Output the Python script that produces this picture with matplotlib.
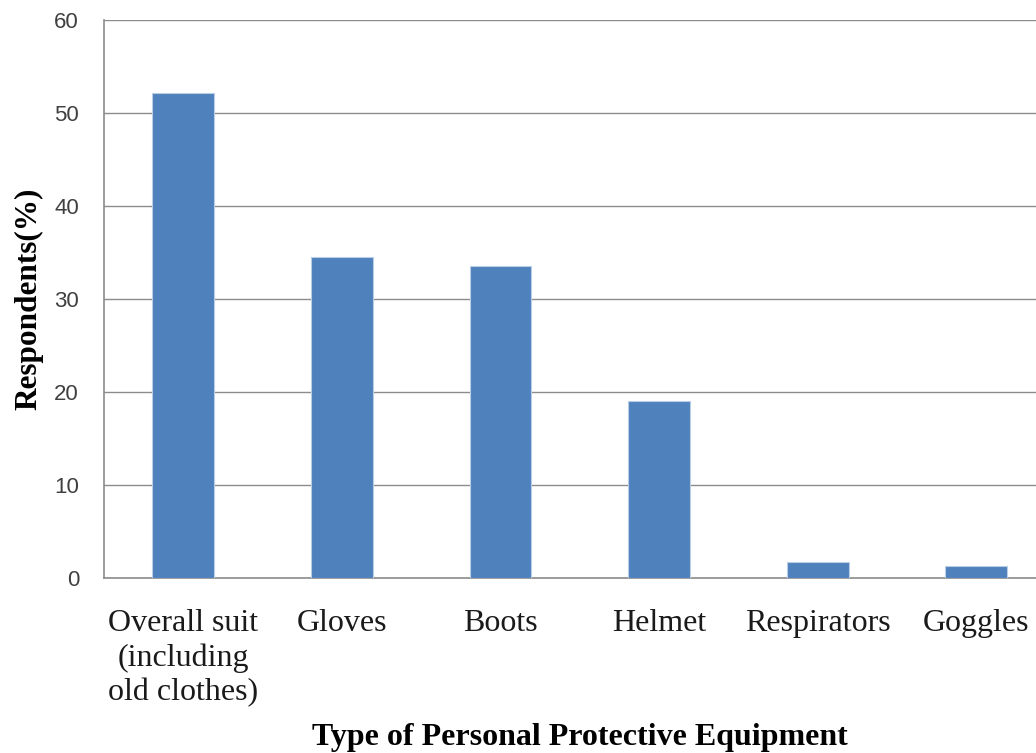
import matplotlib.pyplot as plt

# PPE usage among respondents
equipment = ['Overall suit\n(including\nold clothes)', 'Gloves', 'Boots',
             'Helmet', 'Respirators', 'Goggles']
respondents_pct = [52.1, 34.5, 33.6, 19.0, 1.7, 1.3]

fig = plt.figure(figsize=(10.36, 7.53), dpi=100)
ax = fig.add_axes([0.1004, 0.2324, 0.9185, 0.741])

x = range(len(equipment))
ax.bar(x, respondents_pct, width=0.39, color='#4f81bd',
       edgecolor='#b9cde5', linewidth=0.8, zorder=3)

ax.set_xlim(-0.5, len(equipment) - 0.5)
ax.set_ylim(0, 60)
ax.set_yticks(range(0, 61, 10))
ax.yaxis.grid(True, color='#8c8c8c', linewidth=1.0, zorder=0)

for side in ['top', 'right']:
    ax.spines[side].set_visible(False)
for side in ['left', 'bottom']:
    ax.spines[side].set_color('#8c8c8c')
    ax.spines[side].set_linewidth(1.2)

ax.tick_params(axis='y', length=0, pad=18, labelsize=16, labelcolor='#404040')
ax.tick_params(axis='x', length=0, pad=22)
ax.set_xticks(list(x))
ax.set_xticklabels(equipment, fontsize=23, family='Liberation Serif',
                   linespacing=1.25, va='top', color='#1a1a1a')
for t in ax.get_yticklabels():
    t.set_family('Liberation Sans')

ax.set_ylabel('Respondents(%)', fontsize=22.5, family='Liberation Serif',
              fontweight='bold', labelpad=8)
fig.text(0.56, 0.0106, 'Type of Personal Protective Equipment', ha='center',
         va='baseline', fontsize=23, family='Liberation Serif', fontweight='bold')

fig.savefig('out.png', dpi=100)
